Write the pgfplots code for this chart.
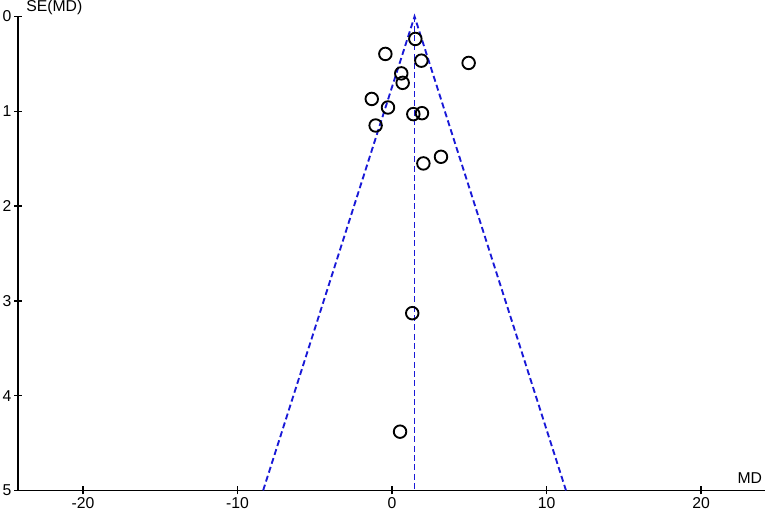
\documentclass[border=0pt]{standalone}
\usepackage{fontspec}
\setmainfont{Liberation Sans}
\usepackage{pgfplots}
\pgfplotsset{compat=1.18}
\definecolor{funnelblue}{RGB}{25,25,215}

\begin{document}
\begin{tikzpicture}[font=\fontsize{11.8}{14}\selectfont]
\begin{axis}[
  scale only axis, width=560.25pt, height=355.5pt,
  xmin=-24.2, xmax=24.14, ymin=0, ymax=5, y dir=reverse,
  axis x line*=bottom, axis y line*=left,
  axis line style={line width=1.3pt, -},
  xtick={-20,-10,0,10,20}, ytick={0,1,2,3,4,5},
  tick align=center, major tick length=6pt,
  tick style={black, line width=1pt},
  /pgf/number format/assume math mode=true,
  xticklabel style={yshift=1pt}, yticklabel style={xshift=1.5pt},
  clip=false,
]
  % funnel limits and pooled estimate
  \addplot[funnelblue, line width=1.4pt, dash pattern=on 4.5pt off 2.5pt] coordinates {(-8.34,5) (1.46,0) (11.26,5)};
  \addplot[funnelblue, line width=1.4pt, dash pattern=on 4.5pt off 2.5pt] coordinates {(1.46,0) (1.46,5)};
  % studies
  \addplot[only marks, mark=o, mark size=4.7pt, mark options={black, line width=1.4pt}] coordinates {
    (1.51,0.237) (-0.43,0.395) (1.90,0.466) (4.96,0.49) (0.60,0.60)
    (0.69,0.70) (-1.31,0.87) (-0.26,0.96) (1.38,1.03) (1.94,1.02)
    (-1.06,1.15) (2.03,1.55) (3.17,1.48) (1.31,3.13) (0.52,4.38)};
  \node[anchor=south west, inner sep=0pt] at (axis cs:-24.2,0) [xshift=6pt, yshift=1pt] {SE(MD)};
  \node[anchor=south east, inner sep=0pt] at (axis cs:24.14,5) [xshift=-2pt, yshift=5pt] {MD};
  \coordinate (bbsw) at (axis cs:-25.37,5.258);
  \coordinate (bbne) at (axis cs:24.14,-0.174);
\end{axis}
\pgfresetboundingbox
\path[use as bounding box] (bbsw) rectangle (bbne);
\end{tikzpicture}
\end{document}
